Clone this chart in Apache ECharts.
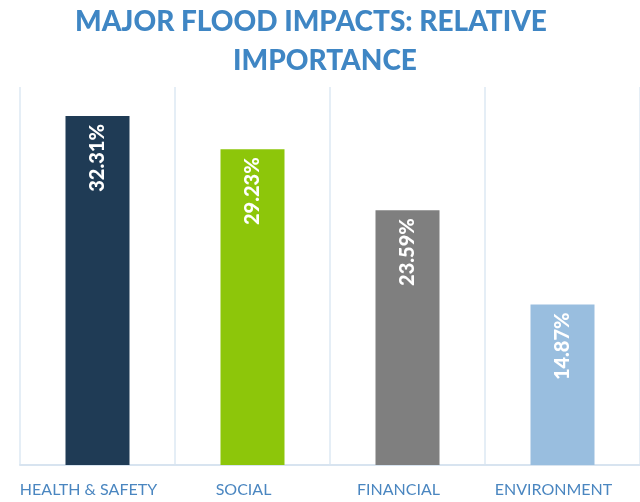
<!DOCTYPE html>
<html><head><meta charset="utf-8">
<script src="https://cdn.jsdelivr.net/npm/echarts@6/dist/echarts.min.js"></script>
<style>html,body{margin:0;padding:0;background:#fff}#c{width:640px;height:502px}</style>
</head><body><div id="c"></div>
<script>
var titleLines = ['MAJOR FLOOD IMPACTS: RELATIVE', 'IMPORTANCE'];
var categories = ['HEALTH & SAFETY', 'SOCIAL', 'FINANCIAL', 'ENVIRONMENT'];
var values = [32.31, 29.23, 23.59, 14.87];
var colors = ['#1f3b55', '#8dc60a', '#7f7f7f', '#99bedf'];

var titleStyle = { fontFamily: 'Lato', fontWeight: 900, fontSize: 28, color: '#3f86c4' };
var chart = echarts.init(document.getElementById('c'));
chart.setOption({
  animation: false,
  title: [
    { text: titleLines[0], left: 311, top: 8, textAlign: 'center', padding: 0, textStyle: titleStyle },
    { text: titleLines[1], left: 325, top: 47, textAlign: 'center', padding: 0, textStyle: titleStyle }
  ],
  grid: { left: 20, top: 87, width: 633, bottom: 37, containLabel: false },
  xAxis: {
    type: 'category', data: categories,
    axisLine: { show: true, lineStyle: { color: '#d8e4f0', width: 2 } },
    axisTick: { show: false },
    splitLine: { show: true, interval: 0, lineStyle: { color: '#dde8f3', width: 1.5 } },
    axisLabel: { interval: 0, fontFamily: 'Lato', fontSize: 16, color: '#4a86c0', margin: 17, padding: [0, 18, 0, 0] }
  },
  yAxis: { type: 'value', min: 0, max: 35, show: false, splitLine: { show: false } },
  series: [{
    type: 'bar', barWidth: 64,
    data: values.map(function (v, i) { return { value: v, itemStyle: { color: colors[i] } }; }),
    label: {
      show: true, position: 'insideTop', rotate: 90, align: 'right', verticalAlign: 'middle', distance: 8,
      formatter: function (p) { return p.value.toFixed(2) + '%'; },
      fontFamily: 'Lato', fontWeight: 900, fontSize: 20, color: '#ffffff'
    }
  }]
});
</script></body></html>
